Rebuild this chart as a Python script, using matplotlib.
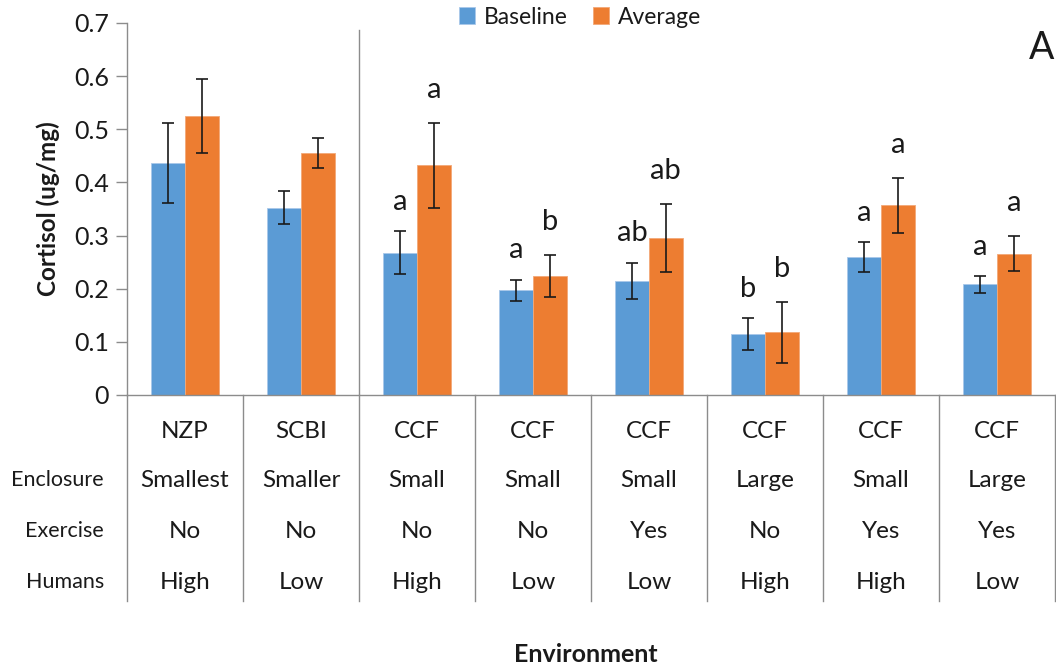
import numpy as np
import matplotlib
matplotlib.use("Agg")
from matplotlib import pyplot as plt
import matplotlib.transforms as mtransforms

plt.rcParams['font.family'] = ['Lato', 'DejaVu Sans']

sites = ["NZP", "SCBI", "CCF", "CCF", "CCF", "CCF", "CCF", "CCF"]
enclosure = ["Smallest", "Smaller", "Small", "Small", "Small", "Large", "Small", "Large"]
exercise = ["No", "No", "No", "No", "Yes", "No", "Yes", "Yes"]
humans = ["High", "Low", "High", "Low", "Low", "High", "High", "Low"]

baseline = [0.437, 0.352, 0.268, 0.197, 0.215, 0.115, 0.260, 0.208]
baseline_err = [0.075, 0.031, 0.040, 0.020, 0.034, 0.030, 0.028, 0.016]
average = [0.525, 0.455, 0.432, 0.224, 0.296, 0.118, 0.357, 0.266]
average_err = [0.070, 0.028, 0.080, 0.040, 0.064, 0.057, 0.052, 0.033]

# significance letters (None = not tested)
base_letters = [None, None, "a", "a", "ab", "b", "a", "a"]
avg_letters = [None, None, "a", "b", "ab", "b", "a", "a"]

BLUE = "#5B9BD5"
ORANGE = "#ED7D31"
GRID = "#8c8c8c"
TXT = "#1a1a1a"

fig = plt.figure(figsize=(10.56, 6.68), dpi=100)
ax = fig.add_axes([127/1056, 273/668, 928/1056, 372/668])

x = np.arange(len(sites))
w = 0.29
ax.bar(x - w/2, baseline, w, color=BLUE, edgecolor="#a9c8ea", linewidth=0.6,
       label="Baseline", zorder=2)
ax.bar(x + w/2, average, w, color=ORANGE, edgecolor="#f3a877", linewidth=0.6,
       label="Average", zorder=2)
ax.errorbar(x - w/2, baseline, yerr=baseline_err, fmt="none", ecolor=TXT,
            elinewidth=1.2, capsize=4.5, capthick=1.2, zorder=3)
ax.errorbar(x + w/2, average, yerr=average_err, fmt="none", ecolor=TXT,
            elinewidth=1.2, capsize=4.5, capthick=1.2, zorder=3)

for i in range(len(x)):
    if base_letters[i]:
        ax.text(x[i] - w/2, baseline[i] + baseline_err[i] + 0.055, base_letters[i],
                ha="center", va="center", fontsize=21, color=TXT)
    if avg_letters[i]:
        ax.text(x[i] + w/2, average[i] + average_err[i] + 0.062, avg_letters[i],
                ha="center", va="center", fontsize=21, color=TXT)

ax.set_xlim(-0.5, len(x) - 0.5)
ax.set_ylim(0, 0.7)
ax.set_yticks(np.arange(0, 0.71, 0.1))
ax.set_yticklabels(["0" if v == 0 else "%.1f" % v for v in np.arange(0, 0.71, 0.1)])
ax.tick_params(axis="y", direction="out", length=8, width=1, color=GRID,
               labelsize=18, labelcolor=TXT, pad=5)
ax.set_xticks([])
for s in ["top", "right"]:
    ax.spines[s].set_visible(False)
ax.spines["left"].set_color(GRID)
ax.spines["bottom"].set_color(GRID)
ax.spines["left"].set_linewidth(1)
ax.spines["bottom"].set_linewidth(1)

# separator between the zoo sites and CCF
ax.axvline(1.5, ymin=0, ymax=0.98, color=GRID, linewidth=1)

ax.set_ylabel("Cortisol (ug/mg)", fontsize=17.5, fontweight="bold", color=TXT, labelpad=10)

# table of environment factors under the axis
trans = mtransforms.blended_transform_factory(ax.transData, ax.transAxes)
for b in np.arange(-0.5, len(x), 1.0):
    ax.plot([b, b], [0, -0.555], transform=trans, color=GRID, linewidth=1, clip_on=False)

rows = [("", sites, -0.097), ("Enclosure", enclosure, -0.229),
        ("Exercise", exercise, -0.366), ("Humans", humans, -0.503)]
for name, vals, yy in rows:
    if name:
        ax.text(-0.7, yy, name, transform=trans, ha="right", va="center",
                fontsize=15.5, color=TXT)
    for i, v in enumerate(vals):
        ax.text(x[i], yy, v, transform=trans, ha="center", va="center",
                fontsize=17.5, color=TXT)

fig.text(586/1056, 1 - 655/668, "Environment", ha="center", va="center",
         fontsize=18, fontweight="bold", color=TXT)
fig.text(1042/1056, 1 - 48/668, "A", ha="center", va="center", fontsize=27, color=TXT)

ax.legend(loc="center", bbox_to_anchor=(580/1056, 1 - 17/668), bbox_transform=fig.transFigure,
          ncol=2, frameon=False, fontsize=16.5, handlelength=0.7, handleheight=0.7,
          handletextpad=0.4, columnspacing=1.1, labelcolor=TXT)

fig.savefig("out.png", dpi=100)
